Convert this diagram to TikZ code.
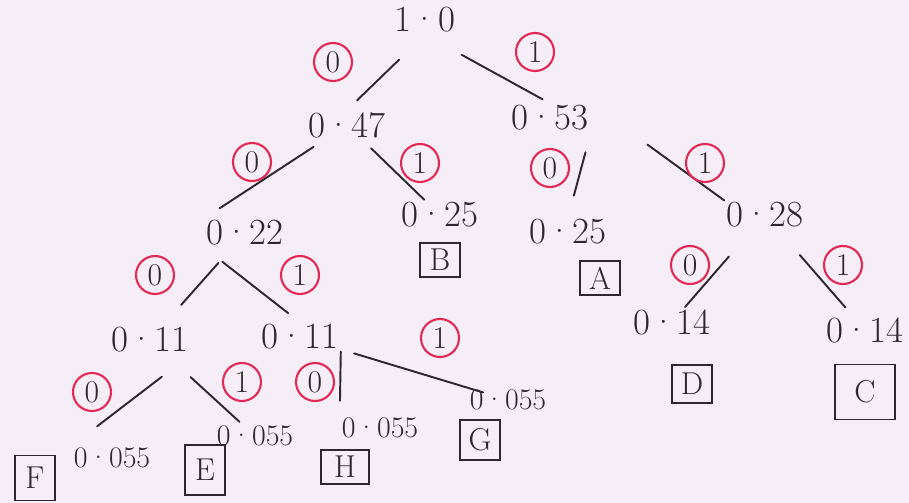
\documentclass[tikz,border=0pt]{standalone}
\usepackage{tikz}
\usetikzlibrary{positioning, calc}

\definecolor{paper}{RGB}{246,238,246}
\definecolor{ink}{RGB}{45,40,45}
\definecolor{bitred}{RGB}{228,40,85}

\tikzset{
  val/.style={text=ink, font=\fontsize{21}{24}\selectfont, inner sep=1pt},
  small/.style={font=\fontsize{17}{20}\selectfont},
  bit/.style={circle, draw=bitred, line width=1.2pt, minimum size=0.76cm, inner sep=0pt,
    text=ink, font=\fontsize{18}{20}\selectfont},
  leaf/.style={draw=ink, line width=1pt, minimum width=0.8cm, minimum height=0.68cm,
    inner sep=1pt, text=ink, font=\fontsize{18}{20}\selectfont},
  branch/.style={ink, line width=1.1pt, line cap=round},
}

\begin{document}
\begin{tikzpicture}[x=0.02cm, y=-0.02cm]
  % paper
  \fill[paper] (0,0) rectangle (909,503);
  \useasboundingbox (0,0) rectangle (909,503);

  % probabilities
  \node[val] (root)  at (425,20)  {1·0};
  \node[val] (n047)  at (347,125) {0·47};
  \node[val] (n053)  at (550,118) {0·53};
  \node[val] (n022)  at (245,233) {0·22};
  \node[val] (n025b) at (440,215) {0·25};
  \node[val] (n025a) at (568,232) {0·25};
  \node[val] (n028)  at (765,215) {0·28};
  \node[val] (n011a) at (150,340) {0·11};
  \node[val] (n011b) at (300,337) {0·11};
  \node[val] (n014d) at (672,322) {0·14};
  \node[val] (n014c) at (865,330) {0·14};
  \node[val, small] (n055f) at (112,458) {0·055};
  \node[val, small] (n055e) at (255,436) {0·055};
  \node[val, small] (n055h) at (380,428) {0·055};
  \node[val, small] (n055g) at (508,400) {0·055};

  % branches (parent/child/shorten at parent/shorten at child, in cm)
  \foreach \p/\c/\s/\e in {root.south/n047.north/0.72/0.28,
      root.south/n053.north/0.84/0.17,
      n047.center/n022.north west/0.8/0.37, n047.center/n025b.center/0.67/0.44,
      n053.south east/n025a.north/0.41/0.45,
      n053.north east/n028.north west/1.4/0,
      n022.center/n011a.center/0.8/0.94, n022.south west/n011b.north/0.46/0.3,
      n028.center/n014d.center/1.1/0.4, n028.center/n014c.center/1.06/0.6,
      n011a.south east/n055f.north west/0.73/0.64,
      n011a.center/n055e.center/1.1/0.42,
      n011b.south east/n055h.north west/0/0.3, n011b.center/n055g.center/1.13/0.52}
    \draw[branch, shorten <=\s cm, shorten >=\e cm] (\p) -- (\c);

  % code bits
  \foreach \n/\x/\y/\b in {b1/333/62/0, b2/535/52/1, b3/252/162/0, b4/420/163/1,
      b5/550/168/0, b6/705/163/1, b7/155/275/0, b8/300/275/1,
      b9/690/265/0, b10/843/265/1, b11/92/392/0, b12/242/382/1,
      b13/315/382/0, b14/440/338/1}
    \node[bit] (\n) at (\x,\y) {\b};

  % symbols
  \node[leaf] (symB) at (440,260) {B};
  \node[leaf] (symA) at (600,278) {A};
  \node[leaf, minimum height=0.76cm] (symD) at (692,384) {D};
  \node[leaf, minimum width=1.2cm, minimum height=1.1cm] (symC) at (865,392) {C};
  \node[leaf, minimum height=0.9cm] (symF) at (35,478) {F};
  \node[leaf, minimum height=1.0cm] (symE) at (205,470) {E};
  \node[leaf, minimum width=0.95cm] (symH) at (345,467) {H};
  \node[leaf, minimum height=0.8cm] (symG) at (480,440) {G};
\end{tikzpicture}
\end{document}
